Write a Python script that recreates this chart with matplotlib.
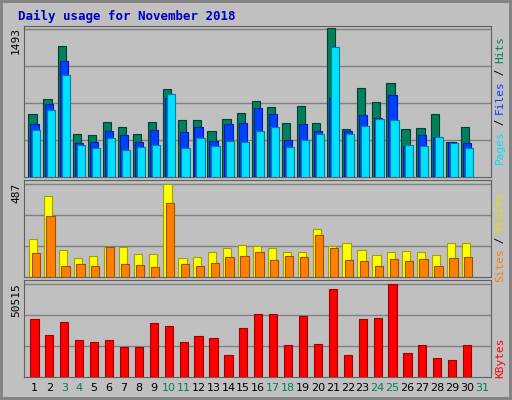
import matplotlib.pyplot as plt
import numpy as np

days = np.arange(1, 31)
day_labels = [str(d) for d in range(1, 32)]
weekend = [3, 4, 10, 11, 17, 18, 24, 25, 31]

hits = [637, 788, 1325, 429, 419, 552, 501, 429, 552, 890, 572, 572, 460, 583, 644, 767, 705, 542, 716, 542, 1503, 480, 900, 757, 951, 480, 491, 634, 348, 501]
files = [531, 736, 1169, 338, 358, 460, 419, 358, 470, 798, 450, 501, 368, 531, 542, 695, 634, 378, 531, 460, 798, 460, 624, 593, 828, 317, 419, 399, 358, 338]
pages = [470, 675, 1033, 327, 297, 389, 276, 307, 327, 838, 297, 389, 317, 368, 358, 460, 501, 307, 378, 429, 1313, 429, 511, 583, 572, 327, 317, 399, 338, 297]
visits = [196, 423, 143, 101, 111, 159, 159, 122, 122, 487, 101, 106, 132, 154, 169, 164, 154, 132, 132, 249, 164, 175, 143, 116, 132, 138, 132, 116, 175, 175]
sites = [127, 318, 58, 69, 58, 159, 69, 64, 53, 386, 69, 58, 74, 106, 111, 132, 90, 111, 106, 217, 154, 90, 85, 58, 95, 85, 95, 58, 101, 106]
kbytes = [31300, 22500, 29700, 20300, 19200, 20300, 16500, 16500, 29100, 27400, 19200, 22000, 20900, 12100, 26300, 34000, 34000, 17600, 32900, 18100, 47800, 12100, 31300, 31800, 50515, 13200, 17600, 10400, 9300, 17600]

BG = '#C0C0C0'
fig = plt.figure(figsize=(5.12, 4.0), dpi=100, facecolor=BG)
W, H = 512, 400

def px_axes(x0, y0, x1, y1):
    ax = fig.add_axes([x0 / W, 1 - y1 / H, (x1 - x0) / W, (y1 - y0) / H])
    ax.set_facecolor(BG)
    ax.set_xlim(0.3, 31.6)
    ax.set_xticks([])
    ax.set_yticks([])
    for s in ax.spines.values():
        s.set_color('#606060')
    return ax

def bars(ax, vals, off, color, edge):
    ax.bar(days + off, vals, width=0.55, color=color, edgecolor=edge, linewidth=0.8, zorder=3)

# Outer frame
frame = fig.add_axes([0, 0, 1, 1])
frame.set_xlim(0, W); frame.set_ylim(H, 0); frame.axis('off')
frame.add_patch(plt.Rectangle((1, 1), W - 3, H - 3, fill=False, ec='#808080', lw=2))
frame.text(18, 16, 'Daily usage for November 2018', color='#0000C0', fontsize=9,
           fontweight='bold', family='DejaVu Sans Mono', va='center')

# Top panel
ax1 = px_axes(24, 26, 491, 177)
ax1.set_ylim(0, 1493 * 1.02)
for g in np.linspace(0, 1493, 5)[1:]:
    ax1.axhline(g, color='#808080', lw=1, zorder=1)
bars(ax1, hits, -0.13, '#00805C', '#004030')
bars(ax1, files, 0.0, '#0040FF', '#0020A0')
bars(ax1, pages, 0.13, '#00E0FF', '#0080A0')
frame.text(16, 40, '1493', rotation=90, fontsize=8, family='DejaVu Sans Mono', ha='center', va='center')

# Middle panel
ax2 = px_axes(24, 180, 491, 277)
ax2.set_ylim(0, 487 * 1.04)
for g in np.linspace(0, 487, 4)[1:]:
    ax2.axhline(g, color='#808080', lw=1, zorder=1)
bars(ax2, visits, -0.08, '#FFFF00', '#A0A000')
bars(ax2, sites, 0.08, '#FF8000', '#A05000')
frame.text(16, 193, '487', rotation=90, fontsize=8, family='DejaVu Sans Mono', ha='center', va='center')

# Bottom panel
ax3 = px_axes(24, 280, 491, 377)
ax3.set_ylim(0, 50515 * 1.04)
for g in np.linspace(0, 50515, 4)[1:]:
    ax3.axhline(g, color='#808080', lw=1, zorder=1)
bars(ax3, kbytes, 0.0, '#FF0000', '#A00000')
frame.text(16, 300, '50515', rotation=90, fontsize=8, family='DejaVu Sans Mono', ha='center', va='center')

# Day labels
for i, lab in enumerate(day_labels):
    d = i + 1
    x = 24 + (d - 0.3) / 31.3 * 467
    frame.text(x, 388, lab, fontsize=8, ha='center', va='center',
               color='#00805C' if d in weekend else 'black')

# Right-side legends
def vlegend(y_center, parts):
    n = sum(len(p[0]) for p in parts)
    step = 6.3
    y = y_center + n * step / 2
    for txt, col in parts:
        ln = len(txt) * step
        frame.text(500, y - ln / 2, txt, rotation=90, color=col, fontsize=8,
                   family='DejaVu Sans Mono', ha='center', va='center')
        y -= ln

vlegend(100, [('Pages', '#00E0FF'), (' / ', 'black'), ('Files', '#0040FF'), (' / ', 'black'), ('Hits', '#00805C')])
vlegend(237, [('Sites', '#FF8000'), (' / ', 'black'), ('Visits', '#E0E000')])
vlegend(358, [('KBytes', '#FF0000')])

fig.savefig('out.png', dpi=100, facecolor=BG)
